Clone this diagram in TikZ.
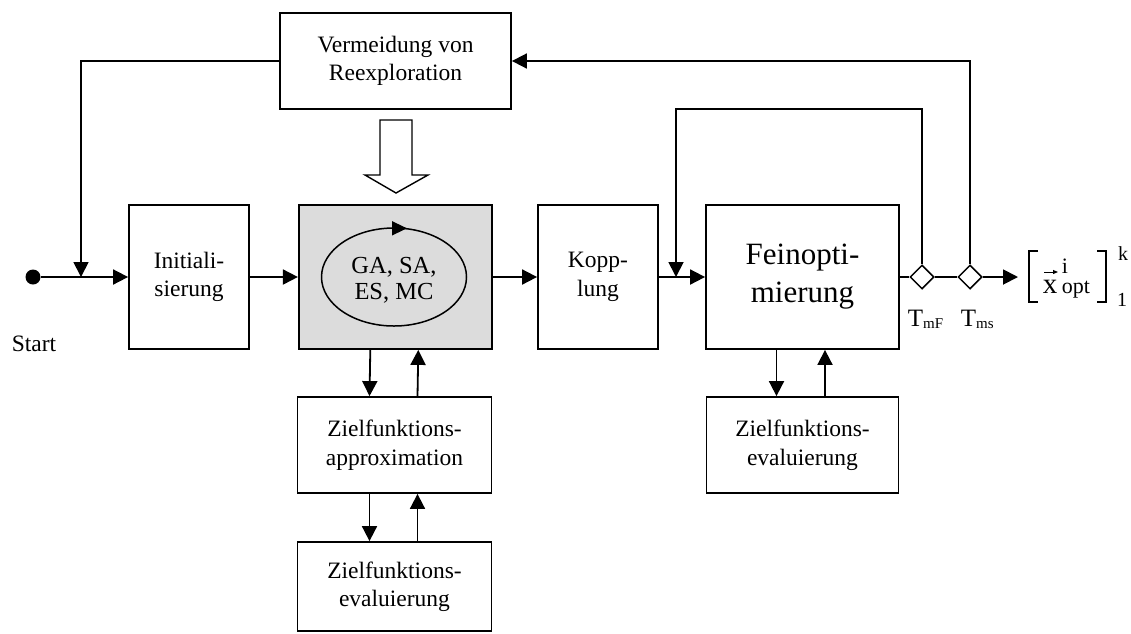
\documentclass[tikz,border=0pt]{standalone}
\usepackage{fontspec}
\setmainfont{Liberation Serif}
\usetikzlibrary{arrows.meta,shapes.geometric}
\definecolor{mygray}{RGB}{220,220,220}
\begin{document}
\begin{tikzpicture}[x=1pt,y=-1pt,line width=1.8pt,
  box/.style={draw, rectangle, inner sep=0pt, align=center, font=\fontsize{23.5}{28.5}\selectfont},
  txt/.style={inner sep=0pt, align=center, font=\fontsize{23.5}{28.5}\selectfont},
  arr/.style={-{Triangle[length=15pt,width=15pt]}},
  dia/.style={draw, diamond, fill=white, inner sep=0pt, minimum width=24pt, minimum height=24pt, aspect=1, line width=1.5pt}]
\useasboundingbox (0,0) rectangle (1131,633);

% boxes
\node[box, minimum width=231pt, minimum height=96pt] (verm) at (395.5,61) {Vermeidung von\\Reexploration};
\node[box, minimum width=120pt, minimum height=144pt] (init) at (189,277) {Initiali-\\sierung};
\node[box, fill=mygray, minimum width=193pt, minimum height=144pt] (main) at (395.3,277) {};
\node[box, minimum width=120pt, minimum height=144pt] (kopp) at (598,277) {Kopp-\\lung};
\node[box, minimum width=193pt, minimum height=144pt, font=\fontsize{31}{38}\selectfont] (fein) at (802.5,277) {Feinopti-\\mierung};
\node[box, minimum width=194pt, minimum height=96pt] (zapp) at (394.5,445) {Zielfunktions-\\approximation};
\node[box, minimum width=194pt, minimum height=89pt] (zev1) at (394.5,586.5) {Zielfunktions-\\evaluierung};
\node[box, minimum width=192pt, minimum height=96pt] (zev2) at (802.5,445) {Zielfunktions-\\evaluierung};

% ellipse inside main box
\draw[line width=1.5pt] (394,277) ellipse [x radius=72.5pt, y radius=49pt];
\coordinate (ea) at (384,228.3);
\coordinate (eb) at (407,228.3);
\draw[line width=1.5pt, -{Triangle[length=15pt,width=14pt]}] (ea) -- (eb);
\node[txt, font=\fontsize{24.5}{26}\selectfont] (algo) at (394,280) {GA, SA,\\ES, MC};

% start
\node[circle, fill, inner sep=0pt, minimum size=15pt] (start) at (33,277) {};
\node[txt, anchor=base] (startlbl) at (34,351) {Start};

% diamonds
\node[dia] (dF) at (922,277) {};
\node[dia] (dS) at (970,277) {};
\node[inner sep=0pt, anchor=base west, font=\fontsize{25}{25}\selectfont] (lF) at (907,326) {T\raisebox{-0.25ex}{\fontsize{15}{15}\selectfont mF}};
\node[inner sep=0pt, anchor=base west, font=\fontsize{25}{25}\selectfont] (lS) at (960,326) {T\raisebox{-0.25ex}{\fontsize{15}{15}\selectfont ms}};

% result
\draw[line width=1.2pt] (1038,251) -- (1029,251) -- (1029,302) -- (1038,302);
\draw[line width=1.2pt] (1097,251) -- (1106,251) -- (1106,302) -- (1097,302);
\node[inner sep=0pt, anchor=base, font=\fontsize{29}{29}\selectfont] (xv) at (1050,293) {x};
\coordinate (va) at (1044,272);
\coordinate (vb) at (1058,272);
\draw[line width=1pt, -{Triangle[length=5pt,width=4pt]}] (va) -- (vb);
\node[inner sep=0pt, anchor=base west, font=\fontsize{22}{22}\selectfont] (xi) at (1061,273) {i};
\node[inner sep=0pt, anchor=base west, font=\fontsize{22}{22}\selectfont] (xo) at (1061,293) {opt};
\node[inner sep=0pt, anchor=base, font=\fontsize{20}{20}\selectfont] (xk) at (1123,260) {k};
\node[inner sep=0pt, anchor=base, font=\fontsize{20}{20}\selectfont] (x1) at (1122,306) {1};
\coordinate (resin) at (1018,277);

% main line
\coordinate (j1) at (81,277);
\coordinate (c1) at (81,61);
\draw[arr] (start) -- (init.west);
\draw[arr] (verm.west) -- (c1) -- (j1);
\draw[arr] (init) -- (main);
\draw[arr] (main) -- (kopp);
\draw[arr] (kopp) -- (fein);
\draw (fein) -- (dF);
\draw (dF) -- (dS);
\draw[arr] (dS) -- (resin);

% feedback loops
\coordinate (t1) at (922,109);
\coordinate (t2) at (676,109);
\coordinate (j2) at (676,277);
\draw[arr] (dF.north) -- (t1) -- (t2) -- (j2);
\coordinate (u1) at (970,61);
\draw[arr] (dS.north) -- (u1) -- (verm.east);

% hollow arrow
\draw[line width=1.4pt, fill=white] (380,120) -- (412,120) -- (412,175) -- (428,175) -- (396,193) -- (365,175) -- (380,175) -- cycle;

% vertical pairs
\draw[arr] ([xshift=-25pt]main.south) -- ([xshift=-25pt]zapp.north);
\draw[arr] ([xshift=23pt]zapp.north) -- ([xshift=23pt]main.south);
\draw[arr] ([xshift=-25pt]zapp.south) -- ([xshift=-25pt]zev1.north);
\draw[arr] ([xshift=23pt]zev1.north) -- ([xshift=23pt]zapp.south);
\draw[arr] ([xshift=-26pt]fein.south) -- ([xshift=-26pt]zev2.north);
\draw[arr] ([xshift=22.5pt]zev2.north) -- ([xshift=22.5pt]fein.south);
\end{tikzpicture}
\end{document}
